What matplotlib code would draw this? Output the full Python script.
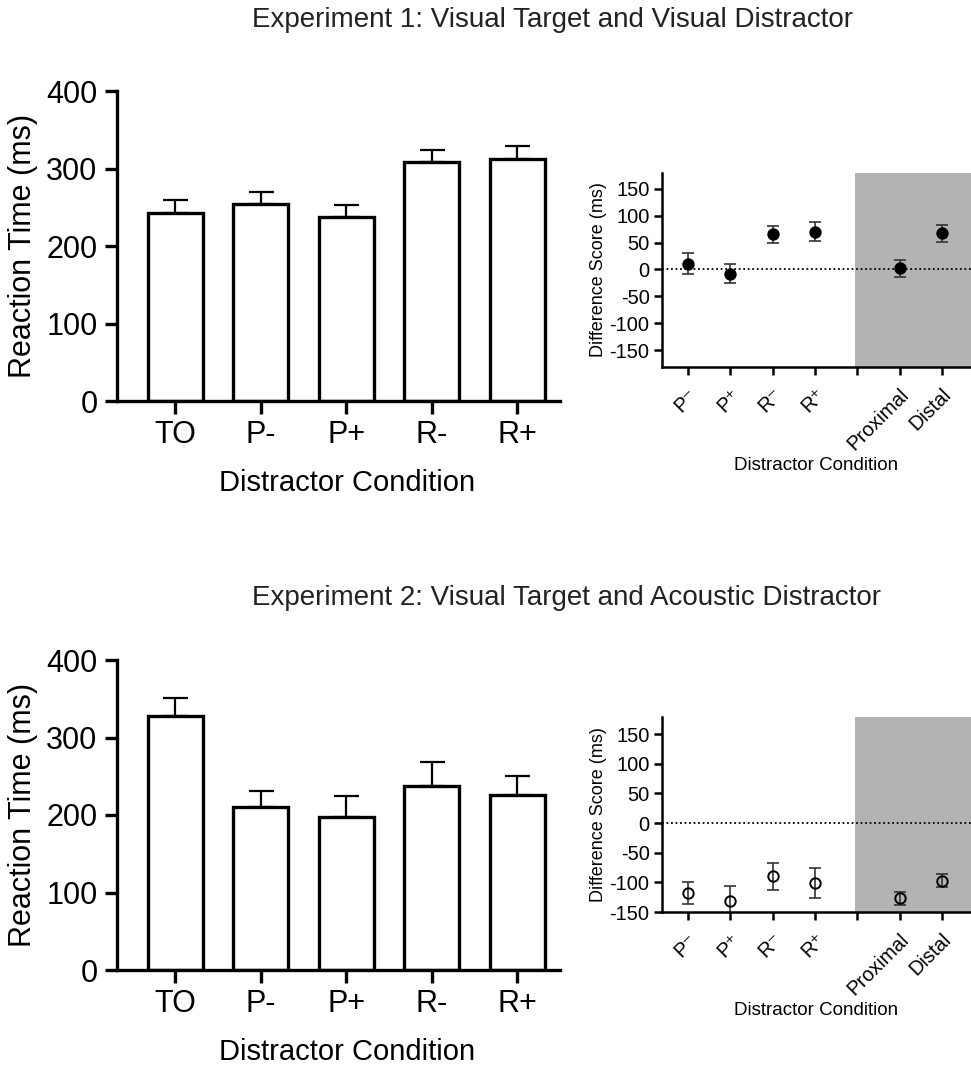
import numpy as np
import matplotlib
matplotlib.use("Agg")
import matplotlib.pyplot as plt

plt.rcParams['font.family'] = ['Liberation Sans', 'DejaVu Sans']
plt.rcParams['axes.unicode_minus'] = False

# bar chart data (reaction time, ms)
bar_labels = ["TO", "P-", "P+", "R-", "R+"]
exp1_rt = [243, 254, 237, 308, 312]
exp1_rt_err = [16, 16, 16, 16, 17]
exp2_rt = [328, 210, 197, 237, 226]
exp2_rt_err = [23, 21, 28, 32, 24]

# difference scores (ms); slot 4 is an empty separator
diff_labels = ["P\u207b", "P\u207a", "R\u207b", "R\u207a", "", "Proximal", "Distal"]
diff_pos = [0, 1, 2, 3, 5, 6]
exp1_diff = [11, -8, 65, 70, 2, 67]
exp1_diff_err = [19, 18, 16, 18, 16, 16]
exp2_diff = [-118, -131, -90, -101, -127, -97]
exp2_diff_err = [19, 25, 23, 26, 11, 11]

W, H = 971, 1066
fig = plt.figure(figsize=(W / 100, H / 100), dpi=100)


def bar_panel(rect, vals, errs):
    ax = fig.add_axes(rect)
    x = np.arange(len(vals))
    ax.bar(x, vals, width=0.64, color="white", edgecolor="black", linewidth=2.4, zorder=2)
    ax.errorbar(x, vals, yerr=[np.zeros(len(errs)), errs], fmt="none", ecolor="black",
                elinewidth=1.6, capsize=9, capthick=1.6, zorder=1)
    ax.set_xlim(-0.68, 4.5)
    ax.set_ylim(0, 400)
    ax.set_yticks([0, 100, 200, 300, 400])
    ax.set_xticks(x)
    ax.set_xticklabels(bar_labels)
    for s in ["top", "right"]:
        ax.spines[s].set_visible(False)
    for s in ["left", "bottom"]:
        ax.spines[s].set_linewidth(2.4)
    ax.tick_params(axis="both", labelsize=22, width=2.4, length=9, pad=5)
    ax.set_ylabel("Reaction Time (ms)", fontsize=22, labelpad=6)
    ax.set_xlabel("Distractor Condition", fontsize=21)
    ax.xaxis.set_label_coords(0.52, -0.22)
    return ax


def diff_panel(rect, vals, errs, ylim, filled):
    ax = fig.add_axes(rect)
    ax.axvspan(3.95, 7, color="#b3b3b3", lw=0, zorder=0)
    ax.axhline(0, color="black", ls=(0, (1, 1.5)), lw=1.3, zorder=1)
    ax.errorbar(diff_pos, vals, yerr=errs, fmt="none", ecolor="#333333",
                elinewidth=1.2, capsize=4.5, capthick=1.2, zorder=2)
    ax.plot(diff_pos, vals, "o", ms=7.5, mec="black", mew=1.4,
            mfc="black" if filled else "none", zorder=3)
    ax.set_xlim(-0.62, 6.69)
    ax.set_ylim(*ylim)
    ax.set_yticks([-150, -100, -50, 0, 50, 100, 150])
    ax.set_xticks(range(len(diff_labels)))
    ax.set_xticklabels(diff_labels, rotation=45, ha="right", rotation_mode="anchor")
    for s in ["top", "right"]:
        ax.spines[s].set_visible(False)
    for s in ["left", "bottom"]:
        ax.spines[s].set_linewidth(1.8)
    ax.tick_params(axis="both", labelsize=14.5, width=1.8, length=6, pad=3)
    ax.tick_params(axis="x", pad=7)
    ax.set_ylabel("Difference Score (ms)", fontsize=13, labelpad=2)
    ax.set_xlabel("Distractor Condition", fontsize=13.5, labelpad=2)
    return ax


def rect(l, t, r, b):
    return [l / W, 1 - b / H, (r - l) / W, (b - t) / H]


bar_panel(rect(117, 91, 560, 401), exp1_rt, exp1_rt_err)
bar_panel(rect(117, 660, 560, 970), exp2_rt, exp2_rt_err)
diff_panel(rect(662, 173, 971, 367), exp1_diff, exp1_diff_err, (-181, 179), True)
diff_panel(rect(662, 717, 971, 912), exp2_diff, exp2_diff_err, (-150, 179), False)

fig.text(553 / W, 1 - 20 / H, "Experiment 1: Visual Target and Visual Distractor",
         ha="center", va="center", fontsize=20, color="#222222")
fig.text(566 / W, 1 - 598 / H, "Experiment 2: Visual Target and Acoustic Distractor",
         ha="center", va="center", fontsize=20, color="#222222")

fig.savefig("out.png", dpi=100)
